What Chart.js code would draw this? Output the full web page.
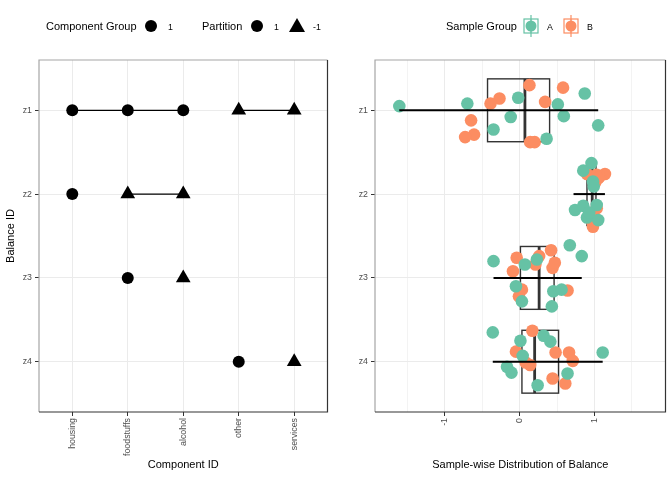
<!DOCTYPE html>
<html>
<head>
<meta charset="utf-8">
<script src="https://cdn.jsdelivr.net/npm/chart.js@4"></script>
<style>
  body { margin: 0; background: #fff; font-family: "Liberation Sans", Arial, sans-serif; }
  #wrap { position: relative; width: 672px; height: 480px; overflow: hidden; }
  #wrap canvas { position: absolute; top: 0; }
  .lg { position: absolute; font-size: 11px; line-height: 12px; color: #000; white-space: nowrap; }
  .lb { position: absolute; font-size: 8.8px; line-height: 10px; color: #000; }
  .dot { position: absolute; width: 12px; height: 12px; border-radius: 50%; background: #000; }
  .tri { position: absolute; width: 0; height: 0; border-left: 8px solid transparent; border-right: 8px solid transparent; border-bottom: 14px solid #000; }
  svg { position: absolute; }
</style>
</head>
<body>
<div id="wrap">
  <canvas id="left" width="336" height="480" style="left:0"></canvas>
  <canvas id="right" width="336" height="480" style="left:336px"></canvas>

  <span class="lg" style="left:46px;top:20px">Component Group</span>
  <div class="dot" style="left:145px;top:20px"></div>
  <span class="lb" style="left:168px;top:22px">1</span>
  <span class="lg" style="left:202px;top:20px">Partition</span>
  <div class="dot" style="left:251px;top:20px"></div>
  <span class="lb" style="left:274px;top:22px">1</span>
  <div class="tri" style="left:289px;top:18px"></div>
  <span class="lb" style="left:313px;top:22px">-1</span>

  <span class="lg" style="left:446px;top:20px">Sample Group</span>
  <svg width="18" height="22" style="left:522px;top:15px">
    <line x1="9" y1="0" x2="9" y2="22" stroke="#66c2a5" stroke-width="1.2"/>
    <rect x="2" y="4" width="14" height="14" fill="#fff" stroke="#66c2a5" stroke-width="1.2"/>
    <line x1="9" y1="4" x2="9" y2="18" stroke="#66c2a5" stroke-width="1.5"/>
    <circle cx="9" cy="11" r="5.5" fill="#66c2a5"/>
  </svg>
  <span class="lb" style="left:547px;top:22px">A</span>
  <svg width="18" height="22" style="left:562px;top:15px">
    <line x1="9" y1="0" x2="9" y2="22" stroke="#fc8d62" stroke-width="1.2"/>
    <rect x="2" y="4" width="14" height="14" fill="#fff" stroke="#fc8d62" stroke-width="1.2"/>
    <line x1="9" y1="4" x2="9" y2="18" stroke="#fc8d62" stroke-width="1.5"/>
    <circle cx="9" cy="11" r="5.5" fill="#fc8d62"/>
  </svg>
  <span class="lb" style="left:587px;top:22px">B</span>
</div>

<script>
const components = ['housing', 'foodstuffs', 'alcohol', 'other', 'services'];
const balances = ['z1', 'z2', 'z3', 'z4'];

// partition of each component per balance (1, -1, 0 = not in balance)
const partZ1 = [1, 1, 1, -1, -1];
const partZ2 = [1, -1, -1, 0, 0];
const partZ3 = [0, 1, -1, 0, 0];
const partZ4 = [0, 0, 0, 1, -1];

const balanceTicks = [-1.5, -1, -0.5, 0, 0.5, 1, 1.5];

// sample-wise balance values per group, with the vertical jitter
const z1A = [-1.61, -0.70, -0.35, -0.12, -0.02, 0.36, 0.51, 0.59, 0.87, 1.05];
const z1AJit = [-0.05, -0.08, 0.23, 0.08, -0.15, 0.34, -0.07, 0.07, -0.20, 0.18];
const z1B = [0.13, 0.58, -0.27, -0.39, 0.34, -0.65, -0.61, -0.73, 0.14, 0.20];
const z1BJit = [-0.30, -0.27, -0.14, -0.08, -0.10, 0.12, 0.29, 0.32, 0.38, 0.38];

const z2A = [0.96, 0.85, 0.98, 0.74, 0.85, 1.03, 0.90, 1.05, 0.93, 0.99];
const z2AJit = [-0.37, -0.28, -0.15, 0.19, 0.14, 0.13, 0.28, 0.31, 0.22, -0.09];
const z2B = [0.90, 1.03, 1.14, 1.01, 1.07, 1.03, 0.97, 0.98, 0.94, 1.05];
const z2BJit = [-0.24, -0.23, -0.24, -0.14, -0.21, 0.17, 0.33, 0.39, 0.24, -0.19];

const z3A = [-0.35, 0.07, 0.67, 0.83, 0.23, -0.05, 0.03, 0.43, 0.45, 0.56];
const z3AJit = [-0.20, -0.16, -0.39, -0.26, -0.22, 0.10, 0.28, 0.34, 0.16, 0.14];
const z3B = [-0.04, -0.09, 0.21, 0.26, 0.42, 0.44, 0.47, 0.03, -0.01, 0.64];
const z3BJit = [-0.24, -0.08, -0.16, -0.26, -0.33, -0.12, -0.18, 0.14, 0.22, 0.15];

const z4A = [-0.36, 0.01, 0.32, 0.41, 0.04, -0.17, -0.11, 0.24, 0.64, 1.11];
const z4AJit = [-0.35, -0.25, -0.31, -0.24, -0.07, 0.06, 0.13, 0.28, 0.14, -0.11];
const z4B = [0.17, -0.05, 0.08, 0.14, 0.48, 0.66, 0.71, 0.44, 0.61];
const z4BJit = [-0.37, -0.12, 0.01, 0.04, -0.11, -0.11, -0.01, 0.20, 0.26];

// box summary per balance (z1..z4)
const boxMin = [-1.61, 0.72, -0.35, -0.36];
const boxQ1 = [-0.43, 0.90, 0.01, 0.03];
const boxMed = [0.07, 0.97, 0.26, 0.20];
const boxQ3 = [0.40, 1.02, 0.46, 0.52];
const boxMax = [1.05, 1.14, 0.83, 1.11];

Chart.defaults.font.family = '"Liberation Sans", Arial, sans-serif';
Chart.defaults.animation = false;

const gridColor = '#ebebeb';
const tickFont = { size: 8.8 };

function yScale(showTitle) {
  return {
    type: 'linear', reverse: true, min: -0.6, max: 3.6,
    afterBuildTicks: s => { s.ticks = balances.map((b, i) => ({ value: i })); },
    afterFit: s => { s.width = 39; },
    ticks: { callback: v => balances[v], color: '#4d4d4d', font: tickFont, padding: 3 },
    grid: { color: gridColor, tickColor: '#333', tickLength: 4 },
    border: { display: false },
    title: { display: showTitle, text: 'Balance ID', color: '#000', font: { size: 11 }, padding: { top: 4, bottom: 0 } }
  };
}

const borderPlugin = {
  id: 'panelBorder',
  afterDraw(chart) {
    const { ctx, chartArea: a } = chart;
    ctx.save();
    ctx.lineWidth = 1.2;
    ctx.strokeStyle = '#a6a6a6';
    ctx.beginPath();
    ctx.moveTo(a.left, a.bottom); ctx.lineTo(a.left, a.top); ctx.lineTo(a.right, a.top);
    ctx.stroke();
    ctx.strokeStyle = '#333';
    ctx.beginPath();
    ctx.moveTo(a.right, a.top); ctx.lineTo(a.right, a.bottom); ctx.lineTo(a.left, a.bottom);
    ctx.stroke();
    ctx.restore();
  }
};

// left panel: which components are in which side of each balance
const partitions = [partZ1, partZ2, partZ3, partZ4];
const leftSets = [];
partitions.forEach((row, b) => {
  [1, -1].forEach(sign => {
    const pts = [];
    row.forEach((p, c) => { if (p === sign) pts.push({ x: c, y: b }); });
    if (pts.length) {
      leftSets.push({
        data: pts,
        showLine: true,
        borderColor: '#000',
        borderWidth: 1.3,
        pointStyle: sign === 1 ? 'circle' : 'triangle',
        pointRadius: sign === 1 ? 6 : 8.5,
        pointBackgroundColor: '#000',
        pointBorderWidth: 0
      });
    }
  });
});

new Chart(document.getElementById('left'), {
  type: 'scatter',
  data: { datasets: leftSets },
  options: {
    responsive: false,
    layout: { padding: { top: 60, right: 8, left: 0, bottom: 0 } },
    plugins: { legend: { display: false }, tooltip: { enabled: false } },
    scales: {
      x: {
        type: 'linear', min: -0.6, max: 4.6,
        afterBuildTicks: s => { s.ticks = components.map((c, i) => ({ value: i })); },
        afterFit: s => { s.height = 68; },
        ticks: { callback: v => components[v], color: '#4d4d4d', font: tickFont, padding: 2,
                 minRotation: 90, maxRotation: 90, autoSkip: false },
        grid: { color: gridColor, tickColor: '#333', tickLength: 4 },
        border: { display: false },
        title: { display: true, text: 'Component ID', color: '#000', font: { size: 11 }, padding: { top: 0, bottom: 8 } }
      },
      y: yScale(true)
    }
  },
  plugins: [borderPlugin]
});

// right panel: jittered samples with box summary
const groupA = [z1A, z2A, z3A, z4A];
const groupAJit = [z1AJit, z2AJit, z3AJit, z4AJit];
const groupB = [z1B, z2B, z3B, z4B];
const groupBJit = [z1BJit, z2BJit, z3BJit, z4BJit];

function jitterPoints(vals, jits) {
  const pts = [];
  vals.forEach((arr, b) => arr.forEach((v, i) => pts.push({ x: v, y: b + jits[b][i] })));
  return pts;
}

const boxPlugin = {
  id: 'boxes',
  beforeDatasetsDraw(chart) {
    const { ctx, scales: { x, y } } = chart;
    ctx.save();
    balances.forEach((b, i) => {
      const top = y.getPixelForValue(i - 0.375);
      const bot = y.getPixelForValue(i + 0.375);
      const l = x.getPixelForValue(boxQ1[i]);
      const r = x.getPixelForValue(boxQ3[i]);
      const m = x.getPixelForValue(boxMed[i]);
      ctx.strokeStyle = '#333';
      ctx.lineWidth = 1.4;
      ctx.strokeRect(l, top, r - l, bot - top);
      ctx.lineWidth = 2.8;
      ctx.beginPath();
      ctx.moveTo(m, top); ctx.lineTo(m, bot);
      ctx.stroke();
    });
    ctx.restore();
  },
  afterDatasetsDraw(chart) {
    const { ctx, scales: { x, y } } = chart;
    ctx.save();
    ctx.strokeStyle = '#000';
    ctx.lineWidth = 2;
    balances.forEach((b, i) => {
      const c = y.getPixelForValue(i);
      ctx.beginPath();
      ctx.moveTo(x.getPixelForValue(boxMin[i]), c);
      ctx.lineTo(x.getPixelForValue(boxMax[i]), c);
      ctx.stroke();
    });
    ctx.restore();
  }
};

new Chart(document.getElementById('right'), {
  type: 'scatter',
  data: {
    datasets: [
      { label: 'A', data: jitterPoints(groupA, groupAJit), pointRadius: 6.3,
        pointBackgroundColor: '#66c2a5', pointBorderWidth: 0 },
      { label: 'B', data: jitterPoints(groupB, groupBJit), pointRadius: 6.3,
        pointBackgroundColor: '#fc8d62', pointBorderWidth: 0 }
    ]
  },
  options: {
    responsive: false,
    layout: { padding: { top: 60, right: 6.5, left: 0, bottom: 0 } },
    plugins: { legend: { display: false }, tooltip: { enabled: false } },
    scales: {
      x: {
        type: 'linear', min: -1.935, max: 1.95,
        afterBuildTicks: s => { s.ticks = balanceTicks.map(v => ({ value: v })); },
        afterFit: s => { s.height = 68; },
        ticks: { callback: v => Number.isInteger(v) ? String(v) : '', color: '#4d4d4d', font: tickFont,
                 padding: 2, minRotation: 90, maxRotation: 90, autoSkip: false },
        grid: {
          color: gridColor,
          lineWidth: c => Number.isInteger(c.tick.value) ? 1 : 0.6,
          tickColor: c => Number.isInteger(c.tick.value) ? '#333' : 'rgba(0,0,0,0)',
          tickLength: 4
        },
        border: { display: false },
        title: { display: true, text: 'Sample-wise Distribution of Balance', color: '#000', font: { size: 11 }, padding: { top: 0, bottom: 8 } }
      },
      y: yScale(false)
    }
  },
  plugins: [boxPlugin, borderPlugin]
});
</script>
</body>
</html>
